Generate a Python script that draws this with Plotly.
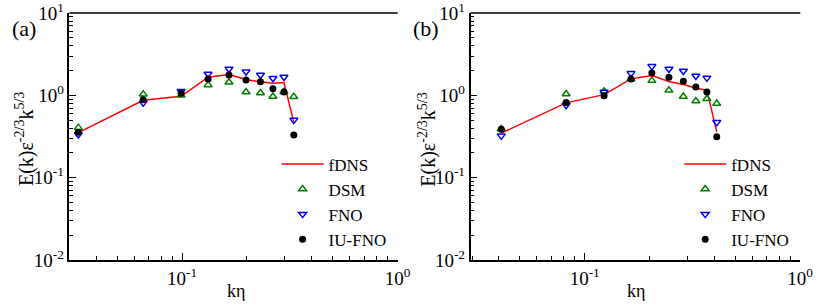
import plotly.graph_objects as go

# ---- data ----
k_a = [0.033, 0.066, 0.099, 0.132, 0.165, 0.198, 0.231, 0.264, 0.297, 0.330]
fdns_a = [0.353, 0.872, 0.973, 1.66, 1.79, 1.556, 1.458, 1.406, 1.43, 0.47]
dsm_a = [0.405, 1.03, 1.00, 1.34, 1.445, 1.096, 1.07, 0.97, 1.10, 0.96]
fno_a = [0.335, 0.81, 1.12, 1.82, 2.09, 1.94, 1.77, 1.61, 1.67, 0.50]
iufno_a = [0.356, 0.887, 1.06, 1.585, 1.77, 1.54, 1.46, 1.20, 1.10, 0.33]

k_b = [0.041, 0.082, 0.123, 0.164, 0.205, 0.246, 0.287, 0.328, 0.369, 0.410]
fdns_b = [0.347, 0.81, 1.02, 1.585, 1.74, 1.47, 1.355, 1.225, 1.15, 0.36]
dsm_b = [0.39, 1.04, 1.12, 1.585, 1.51, 1.15, 0.97, 0.855, 0.91, 0.794]
fno_b = [0.322, 0.76, 1.10, 1.85, 2.25, 2.09, 1.98, 1.72, 1.63, 0.47]
iufno_b = [0.387, 0.817, 0.99, 1.585, 1.87, 1.66, 1.486, 1.26, 1.10, 0.313]

y_tickvals = [0.01, 0.1, 1, 10]
y_ticktext = ["10<sup>-2</sup>", "10<sup>-1</sup>", "10<sup>0</sup>", "10<sup>1</sup>"]
x_tickvals = [0.1, 1]
x_ticktext = ["10<sup>-1</sup>", "10<sup>0</sup>"]
x_minor = [0.03, 0.04, 0.05, 0.06, 0.07, 0.08, 0.09,
           0.2, 0.3, 0.4, 0.5, 0.6, 0.7, 0.8, 0.9]
y_minor = [0.02, 0.03, 0.04, 0.05, 0.06, 0.07, 0.08, 0.09,
           0.2, 0.3, 0.4, 0.5, 0.6, 0.7, 0.8, 0.9,
           2, 3, 4, 5, 6, 7, 8, 9]

FONT = "Liberation Serif"
W, H = 830, 307
T, B = 10, 47

fig = go.Figure()

def add_panel(k, fdns, dsm, fno, iufno, xa, ya, leg):
    fig.add_trace(go.Scatter(x=k, y=fdns, mode="lines", name="fDNS",
                             line=dict(color="#ff0000", width=1.5),
                             xaxis=xa, yaxis=ya, legend=leg))
    fig.add_trace(go.Scatter(x=k, y=dsm, mode="markers", name="DSM",
                             marker=dict(symbol="triangle-up-open", size=7,
                                         color="#008000", line=dict(width=1.5, color="#008000")),
                             xaxis=xa, yaxis=ya, legend=leg))
    fig.add_trace(go.Scatter(x=k, y=fno, mode="markers", name="FNO",
                             marker=dict(symbol="triangle-down-open", size=7,
                                         color="#0000ff", line=dict(width=1.5, color="#0000ff")),
                             xaxis=xa, yaxis=ya, legend=leg))
    fig.add_trace(go.Scatter(x=k, y=iufno, mode="markers", name="IU-FNO",
                             marker=dict(symbol="circle", size=7, color="#000000"),
                             xaxis=xa, yaxis=ya, legend=leg))

add_panel(k_a, fdns_a, dsm_a, fno_a, iufno_a, "x", "y", "legend")
add_panel(k_b, fdns_b, dsm_b, fno_b, iufno_b, "x2", "y2", "legend2")

def xaxis_cfg(dom, anchor, rng):
    return dict(type="log", domain=dom, anchor=anchor, range=rng,
                tickmode="array", tickvals=x_tickvals, ticktext=x_ticktext,
                ticks="inside", ticklen=7, tickwidth=1, tickcolor="black",
                minor=dict(tickmode="array", tickvals=x_minor, ticks="inside",
                           ticklen=4, tickcolor="black", showgrid=False),
                showline=True, linecolor="black", linewidth=1.5, mirror=False,
                showgrid=False, zeroline=False, ticklabeloverflow="allow",
                tickfont=dict(family=FONT, size=19, color="black"))

def yaxis_cfg(dom, anchor):
    return dict(type="log", domain=dom, anchor=anchor, range=[-2.0005, 1.0005],
                tickmode="array", tickvals=y_tickvals, ticktext=y_ticktext,
                ticks="inside", ticklen=7, tickwidth=1, tickcolor="black",
                minor=dict(tickmode="array", tickvals=y_minor, ticks="inside",
                           ticklen=4, tickcolor="black", showgrid=False),
                showline=True, linecolor="black", linewidth=1.5,
                showgrid=False, zeroline=False, ticklabeloverflow="allow",
                tickfont=dict(family=FONT, size=19, color="black"))

xa_dom = [70.5 / W, 404 / W]
xb_dom = [478 / W, 813 / W]

def py(p):
    return (H - B - p) / (H - T - B)

leg_common = dict(xanchor="left", yanchor="top", bgcolor="rgba(0,0,0,0)",
                  font=dict(family=FONT, size=17), tracegroupgap=0, itemwidth=42)

fig.update_layout(
    width=W, height=H,
    margin=dict(l=0, r=0, t=T, b=B),
    paper_bgcolor="white", plot_bgcolor="white",
    font=dict(family=FONT, size=17, color="black"),
    xaxis=xaxis_cfg(xa_dom, "y", [-1.523, 0.0005]),
    yaxis=yaxis_cfg([0, 1], "x"),
    xaxis2=xaxis_cfg(xb_dom, "y2", [-1.53, 0.0005]),
    yaxis2=yaxis_cfg([0, 1], "x2"),
    legend=dict(x=281 / W, y=py(145), **leg_common),
    legend2=dict(x=690 / W, y=py(145), **leg_common),
    showlegend=True,
)

shapes = []
for dom in (xa_dom, xb_dom):
    shapes.append(dict(type="line", xref="paper", yref="paper",
                       x0=dom[0], x1=dom[1], y0=1, y1=1,
                       line=dict(color="black", width=1.5)))
fig.update_layout(shapes=shapes)

ylab = "E(k)ε<sup>-2/3</sup>k<sup>5/3</sup>"
ann = []
for xp in (25, 434):
    ann.append(dict(text=ylab, x=xp / W, y=py(138), xref="paper", yref="paper",
                    textangle=-90, showarrow=False, xanchor="center", yanchor="middle",
                    font=dict(family=FONT, size=20, color="black")))
for xp in (240, 646):
    ann.append(dict(text="kη", x=xp / W, y=py(291), xref="paper", yref="paper",
                    showarrow=False, xanchor="center", yanchor="middle",
                    font=dict(family=FONT, size=18, color="black")))
ann.append(dict(text="(a)", x=24 / W, y=py(26), xref="paper", yref="paper",
                showarrow=False, xanchor="center", yanchor="middle",
                font=dict(family=FONT, size=22, color="black")))
ann.append(dict(text="(b)", x=433 / W, y=py(26), xref="paper", yref="paper",
                showarrow=False, xanchor="center", yanchor="middle",
                font=dict(family=FONT, size=22, color="black")))
fig.update_layout(annotations=ann)

fig.write_html("out.html", config={"displayModeBar": False},
               post_script="document.body.style.margin='0px';")
